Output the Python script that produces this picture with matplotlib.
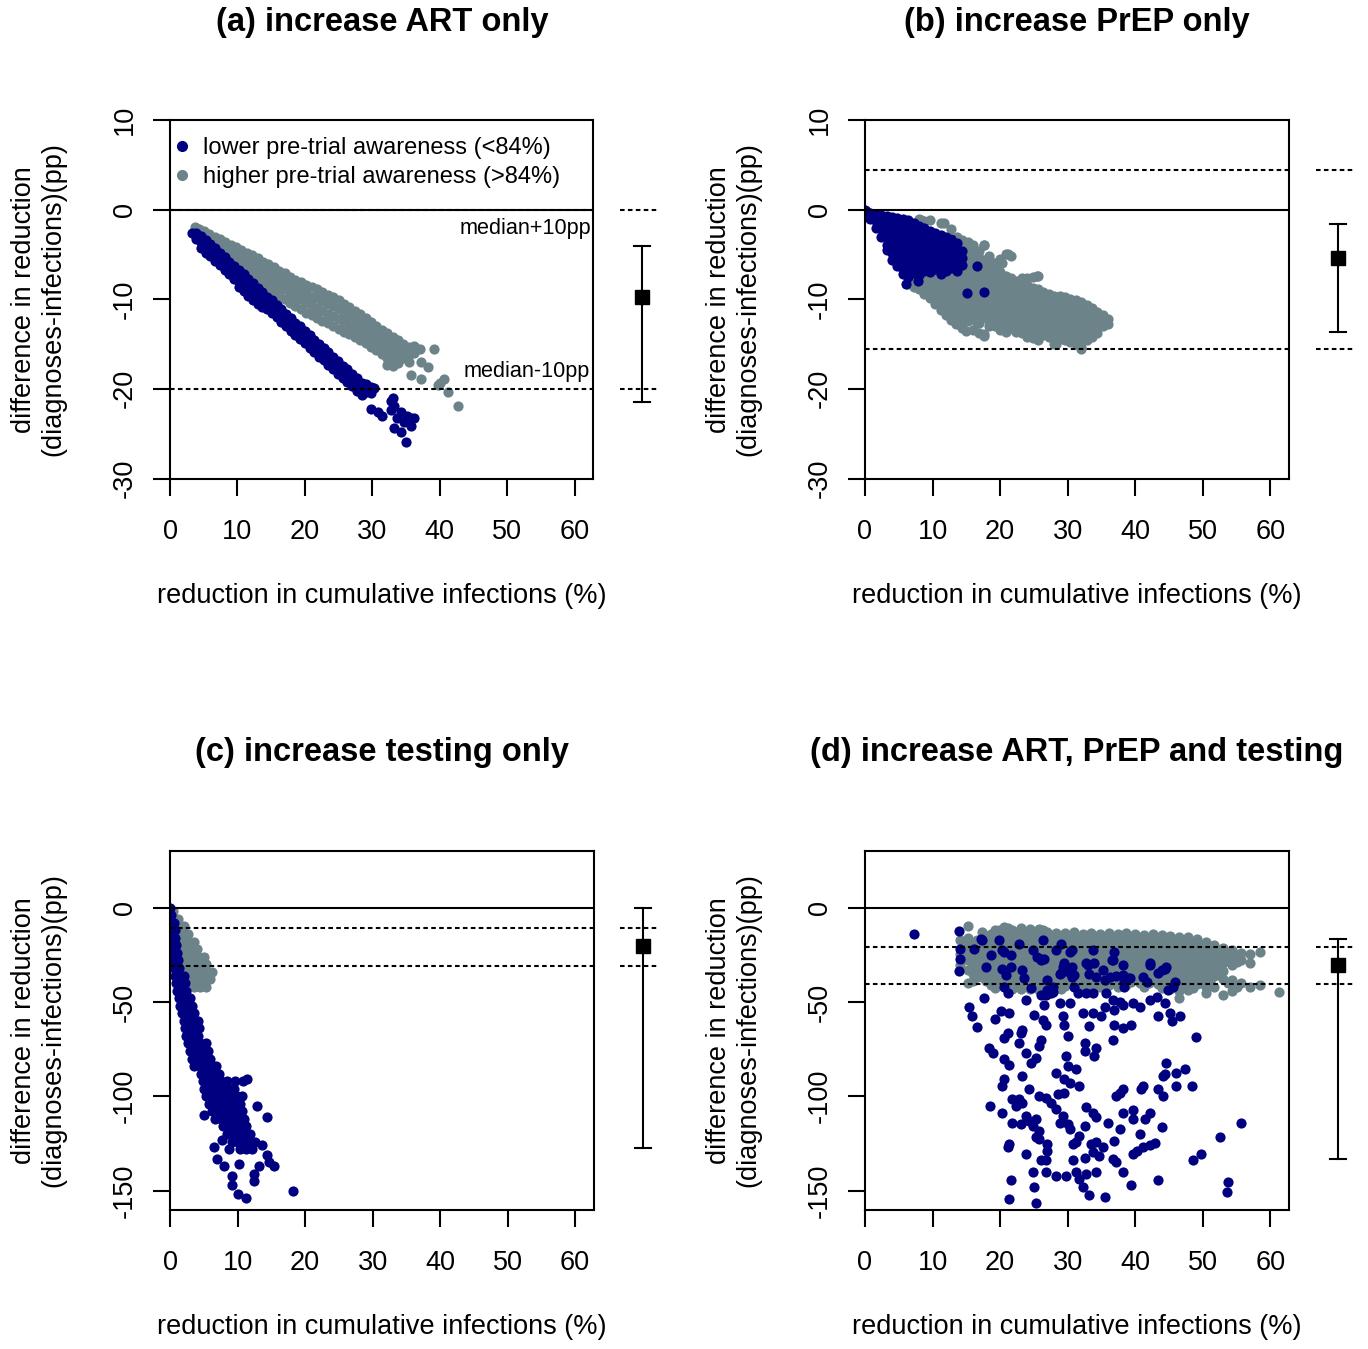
import matplotlib
matplotlib.use("Agg")
import matplotlib.pyplot as plt
from matplotlib.lines import Line2D

plt.rcParams["font.family"] = ["Liberation Sans", "DejaVu Sans"]
plt.rcParams["axes.unicode_minus"] = False

LOW_COL = "#000080"
HIGH_COL = "#6b8389"

titles = ["(a) increase ART only", "(b) increase PrEP only",
          "(c) increase testing only", "(d) increase ART, PrEP and testing"]
legend_labels = ["lower pre-trial awareness (<84%)", "higher pre-trial awareness (>84%)"]
xlabel = "reduction in cumulative infections (%)"
ylabel_lines = ["difference in reduction", "(diagnoses-infections)(pp)"]

xticks = [0, 10, 20, 30, 40, 50, 60]
yticks_top = [10, 0, -10, -20, -30]
yticks_bottom = [0, -50, -100, -150]

# median and range of each scenario (drawn right of the panels)
medians = [-9.8, -5.4, -20.3, -30.2]
bar_lo = [-21.5, -13.6, -127.5, -133.2]
bar_hi = [-4.1, -1.6, 0.0, -16.7]
# median +/- 10pp reference lines
ref_lines = [(0.0, -20.0), (4.4, -15.5), (-11.0, -31.0), (-21.0, -40.7)]

# ---------------- (a) increase ART only ----------------
# columns: (x, [y values])
art_high_cols = [
    (3.7, [-1.9]), (4.3, [-2.2, -2.8]), (5.0, [-2.4, -3.2]), (5.8, [-2.7, -3.5, -4.0]),
    (6.6, [-3.0, -3.8, -4.5]), (7.4, [-3.3, -4.1, -4.9]), (8.2, [-3.6, -4.4, -5.3, -5.8]),
    (9.0, [-3.9, -4.7, -5.6, -6.2]), (9.8, [-4.2, -5.0, -5.9, -6.6]),
    (10.6, [-4.5, -5.4, -6.2, -7.0]), (11.4, [-4.8, -5.7, -6.5, -7.3]),
    (12.2, [-5.1, -6.0, -6.9, -7.7]), (13.0, [-5.4, -6.3, -7.2, -8.1]),
    (13.8, [-5.8, -6.6, -7.5, -8.4]), (14.6, [-6.1, -7.0, -7.9, -8.8]),
    (15.4, [-6.4, -7.3, -8.2, -9.2]), (16.2, [-6.8, -7.7, -8.6, -9.6]),
    (17.0, [-7.1, -8.0, -8.9, -10.0]), (17.8, [-7.5, -8.4, -9.3, -10.4]),
    (18.6, [-7.8, -8.7, -9.7, -10.8]), (19.4, [-8.1, -9.0, -10.0, -11.1]),
    (20.2, [-8.4, -9.4, -10.4, -11.5]), (21.0, [-8.6, -9.7, -10.7, -11.8]),
    (21.8, [-8.9, -9.9, -11.0, -12.1]), (22.6, [-9.2, -10.2, -11.3, -12.4]),
    (23.4, [-9.5, -10.5, -11.6, -12.7]), (24.2, [-9.8, -10.8, -11.9, -13.0]),
    (25.0, [-10.1, -11.1, -12.2, -13.3]), (25.8, [-10.5, -11.5, -12.5, -13.6]),
    (26.6, [-10.9, -11.9, -12.9, -13.9]), (27.4, [-11.3, -12.3, -13.2, -14.2]),
    (28.2, [-11.7, -12.7, -13.6, -14.5]), (29.0, [-12.1, -13.1, -14.0, -14.9]),
    (29.8, [-12.5, -13.5, -14.4, -15.3]), (30.6, [-13.0, -13.9, -14.8, -15.7]),
    (31.4, [-13.4, -14.3, -15.2, -16.1]), (32.2, [-13.8, -14.7, -15.6, -16.6, -17.3]),
    (33.0, [-14.2, -15.1, -16.0, -16.9, -17.5]), (33.8, [-14.6, -15.5, -16.4, -17.1]),
    (34.6, [-15.0, -15.8, -16.6]), (35.4, [-15.3, -16.2, -17.0]), (36.2, [-15.2, -16.0]),
    (37.0, [-15.6]),
]
art_high_extra = [(39.1, -15.6), (37.2, -17.0), (38.2, -17.6), (35.7, -18.5), (37.2, -18.9),
                  (40.6, -18.9), (39.7, -19.6), (41.2, -20.4), (42.7, -21.9), (40.1, -19.3)]
art_low_cols = [
    (3.2, [-2.6]), (3.9, [-2.6, -3.3]), (4.6, [-2.9, -3.6, -4.3]), (5.3, [-3.4, -4.1, -4.8]),
    (6.0, [-3.8, -4.5, -5.2]), (6.7, [-4.3, -5.0, -5.7]), (7.4, [-4.8, -5.5, -6.2]),
    (8.1, [-5.3, -6.0, -6.7]), (8.8, [-5.8, -6.5, -7.2]), (9.5, [-6.3, -7.0, -7.7]),
    (10.2, [-6.7, -7.4, -8.1, -8.6]), (10.9, [-7.2, -7.9, -8.6, -9.1]),
    (11.6, [-7.7, -8.4, -9.1, -9.6]), (12.3, [-8.2, -8.9, -9.6, -10.1]),
    (13.0, [-8.7, -9.4, -10.1, -10.5]), (13.7, [-9.2, -9.9, -10.6, -10.9]),
    (14.4, [-9.7, -10.4, -11.1]), (15.1, [-10.1, -10.8, -11.5]), (15.8, [-10.6, -11.3, -12.0]),
    (16.5, [-11.1, -11.8, -12.5]), (17.2, [-11.6, -12.3, -13.0]), (17.9, [-12.1, -12.8, -13.5]),
    (18.6, [-12.6, -13.3, -14.0]), (19.3, [-13.0, -13.7, -14.4]), (20.0, [-13.5, -14.2, -14.9]),
    (20.7, [-14.0, -14.7, -15.4]), (21.4, [-14.5, -15.2, -15.9]), (22.1, [-15.0, -15.7, -16.4]),
    (22.8, [-15.4, -16.1, -16.8]), (23.5, [-15.9, -16.6, -17.3]), (24.2, [-16.4, -17.1, -17.8]),
    (24.9, [-16.9, -17.6, -18.3]), (25.6, [-17.4, -18.1, -18.8]), (26.3, [-17.8, -18.5, -19.2]),
    (27.0, [-18.3, -19.0, -19.7]), (27.7, [-18.8, -19.5, -20.2]), (28.4, [-19.3, -20.0, -20.7]),
    (29.1, [-19.5, -20.3]), (29.8, [-19.8, -20.5]), (30.2, [-19.9]),
]
art_low_extra = [(32.7, -21.3), (33.2, -21.9), (29.8, -22.2), (30.8, -22.6), (31.5, -23.0),
                 (32.7, -22.4), (34.2, -22.6), (35.2, -23.0), (35.7, -23.3), (33.7, -23.3),
                 (34.7, -23.7), (33.2, -24.4), (34.2, -24.8), (35.7, -24.1), (36.2, -23.3),
                 (35.0, -25.9), (33.0, -21.0)]

# ---------------- (b) increase PrEP only ----------------
prep_high_cols = [
    (6.4, [-7.6, -8.3]), (7.2, [-7.7, -8.6]), (8.0, [-1.1, -8.0, -8.9]),
    (8.8, [-1.3, -7.8, -8.6, -9.4]), (9.6, [-1.2, -7.5, -8.3, -9.1, -9.9]),
    (10.4, [-7.4, -8.2, -9.0, -9.8, -10.5]), (11.2, [-1.5, -7.3, -8.1, -8.9, -9.7, -10.5, -11.2]),
    (12.0, [-7.2, -8.0, -8.8, -9.6, -10.4, -11.2, -11.8]),
    (12.8, [-2.2, -7.0, -7.8, -8.6, -9.4, -10.2, -11.0, -11.8, -12.3]),
    (13.6, [-3.0, -6.9, -7.7, -8.5, -9.3, -10.1, -10.9, -11.7, -12.5]),
    (14.4, [-3.4, -4.2, -7.0, -7.8, -8.6, -9.4, -10.2, -11.0, -11.8, -12.6, -13.2]),
    (15.2, [-3.6, -4.4, -5.2, -6.0, -6.8, -7.6, -8.4, -9.2, -10.0, -10.8, -11.6, -12.4]),
    (16.0, [-4.0, -4.8, -5.6, -6.4, -7.2, -8.0, -8.8, -9.6, -10.4, -11.2, -12.0, -13.4]),
    (16.8, [-4.6, -5.4, -6.2, -7.0, -7.8, -8.6, -9.4, -10.2, -11.0, -11.8, -12.6, -13.8]),
    (17.6, [-4.0, -5.6, -6.4, -7.2, -8.0, -8.8, -9.6, -10.4, -11.2, -12.0, -13.9]),
    (18.4, [-5.2, -6.0, -6.8, -7.6, -8.4, -9.2, -10.0, -10.8, -11.6, -12.4, -13.0]),
    (19.2, [-5.9, -6.6, -7.4, -8.2, -9.0, -9.8, -10.6, -11.4, -12.2, -13.0]),
    (20.0, [-5.5, -7.0, -7.8, -8.6, -9.4, -10.2, -11.0, -11.8, -12.6, -13.4]),
    (20.8, [-4.9, -7.4, -8.2, -9.0, -9.8, -10.6, -11.4, -12.2, -13.0, -13.6]),
    (21.6, [-5.2, -7.6, -8.4, -9.2, -10.0, -10.8, -11.6, -12.4, -13.2]),
    (22.4, [-8.0, -8.8, -9.6, -10.4, -11.2, -12.0, -12.8, -13.6]),
    (23.2, [-7.6, -8.2, -9.0, -9.8, -10.6, -11.4, -12.2, -13.0, -13.8]),
    (24.0, [-7.6, -8.4, -9.2, -10.0, -10.8, -11.6, -12.4, -13.2, -14.2]),
    (24.8, [-7.5, -8.7, -9.5, -10.3, -11.1, -11.9, -12.7, -13.5, -14.3]),
    (25.6, [-7.4, -8.9, -9.7, -10.5, -11.3, -12.1, -12.9, -13.7, -14.5]),
    (26.4, [-9.2, -10.0, -10.8, -11.6, -12.4, -13.2, -14.0]),
    (27.2, [-9.4, -10.2, -11.0, -11.8, -12.6, -13.4, -14.2]),
    (28.0, [-9.6, -10.4, -11.2, -12.0, -12.8, -13.6, -14.4, -15.0]),
    (28.8, [-9.6, -10.4, -11.2, -12.0, -12.8, -13.6, -14.4]),
    (29.6, [-9.8, -10.6, -11.4, -12.2, -13.0, -13.8, -14.6]),
    (30.4, [-10.0, -10.8, -11.6, -12.4, -13.2, -14.0, -14.8]),
    (31.2, [-10.1, -10.9, -11.7, -12.5, -13.3, -14.1, -15.0]),
    (32.0, [-10.3, -11.1, -11.9, -12.7, -13.5, -14.3, -15.3]),
    (32.8, [-10.6, -11.4, -12.2, -13.0, -13.8, -14.6]),
    (33.6, [-11.0, -11.8, -12.6, -13.4, -14.2]),
    (34.4, [-11.4, -12.2, -13.0, -13.8]),
    (35.2, [-11.8, -12.6, -13.0]),
    (36.0, [-12.2, -12.8]),
]
prep_high_extra = [(8.3, -1.2), (11.7, -1.5), (17.6, -4.0), (21.1, -4.9), (19.3, -5.9),
                   (20.3, -5.9), (22.8, -8.0), (23.8, -7.8), (25.5, -7.4), (13.4, -12.8),
                   (14.9, -13.5), (17.6, -14.1), (16.6, -12.6), (28.3, -15.0), (32.0, -15.5)]
prep_low_cols = [
    (0.2, [-0.1]), (0.8, [-0.4, -1.1]), (1.6, [-0.5, -1.3, -2.1]),
    (2.4, [-0.6, -1.4, -2.2, -3.0]), (3.2, [-0.7, -1.5, -2.3, -3.1, -3.9, -4.5]),
    (4.0, [-0.8, -1.6, -2.4, -3.2, -4.0, -4.8, -5.6]),
    (4.8, [-0.9, -1.7, -2.5, -3.3, -4.1, -4.9, -5.7, -6.3]),
    (5.6, [-1.0, -1.8, -2.6, -3.4, -4.2, -5.0, -5.8, -6.6, -7.2]),
    (6.4, [-1.2, -2.0, -2.8, -3.6, -4.4, -5.2, -6.0, -6.8, -7.5]),
    (7.2, [-1.5, -2.3, -3.1, -3.9, -4.7, -5.5, -6.3, -7.1]),
    (8.0, [-1.8, -2.6, -3.4, -4.2, -5.0, -5.8, -6.6, -7.3]),
    (8.8, [-2.1, -2.9, -3.7, -4.5, -5.3, -6.1, -6.9]),
    (9.6, [-2.4, -3.2, -4.0, -4.8, -5.6, -6.4, -7.0]),
    (10.4, [-2.6, -3.4, -4.2, -5.0, -5.8, -6.6]),
    (11.2, [-2.8, -3.6, -4.4, -5.2, -6.0, -6.8]),
    (12.0, [-3.0, -3.8, -4.6, -5.4, -6.2, -6.9]),
    (12.8, [-3.3, -4.1, -4.9, -5.7, -6.5]),
    (13.6, [-3.7, -4.5, -5.3, -6.1, -6.8]),
    (14.3, [-4.6, -5.4, -6.2]),
]
prep_low_extra = [(16.6, -6.3), (15.1, -9.3), (17.6, -9.2), (6.0, -8.3), (7.9, -8.0),
                  (0.0, 0.0), (11.2, -7.2)]

# ---------------- (c) increase testing only ----------------
# rows: (y, [x values])
test_high_rows = [
    (-2, [0.4]), (-6, [0.6, 1.2]), (-10, [0.8, 1.5, 2.1]), (-14, [1.0, 1.8, 2.6]),
    (-18, [1.2, 2.1, 3.0, 3.6]), (-22, [1.4, 2.3, 3.2, 4.0]), (-26, [1.6, 2.5, 3.4, 4.3, 5.0]),
    (-30, [1.8, 2.7, 3.6, 4.5, 5.4]), (-34, [2.0, 2.9, 3.8, 4.7, 5.6, 6.2]),
    (-38, [2.6, 3.5, 4.4, 5.3, 5.9]), (-42, [3.6, 4.5, 5.3]),
]
test_low_rows = [
    (0, [0.0]), (-4, [0.1]), (-8, [0.2, 0.6]), (-12, [0.2, 0.7]), (-16, [0.3, 0.8]),
    (-20, [0.3, 0.9]), (-24, [0.4, 1.0]), (-28, [0.5, 1.2]), (-32, [0.6, 1.3]),
    (-36, [0.7, 1.5, 2.0]), (-40, [0.9, 1.6, 2.2]), (-44, [1.0, 1.8, 2.4]),
    (-48, [1.3, 2.1, 2.9]), (-52, [1.5, 2.3, 3.2]), (-56, [1.8, 2.6, 3.5]),
    (-60, [2.0, 2.8, 3.7, 4.2]), (-64, [2.2, 3.0, 3.9, 4.3]), (-68, [2.4, 3.3, 4.2]),
    (-72, [2.7, 3.6, 4.5, 5.4]), (-76, [2.9, 3.8, 4.7, 5.6]), (-80, [3.2, 4.1, 5.0, 5.9]),
    (-84, [3.5, 4.4, 5.3, 6.2, 6.8]), (-88, [4.6, 5.5, 6.4, 7.3]),
    (-92, [4.9, 5.8, 6.7, 7.6, 8.5, 9.6, 10.8]), (-96, [5.1, 6.0, 6.9, 7.8, 8.7, 9.5]),
    (-100, [5.4, 6.3, 7.2, 8.1, 9.0, 9.9, 10.6]), (-104, [5.8, 6.7, 7.6, 8.5, 9.4, 10.3]),
    (-108, [6.2, 7.1, 8.0, 8.9, 9.8, 10.6]), (-112, [6.6, 7.5, 8.4, 9.3, 10.2, 11.0]),
    (-116, [7.8, 8.7, 9.6, 10.5, 11.3]), (-120, [8.4, 9.3, 10.2, 11.1, 11.9]),
    (-124, [9.2, 10.1, 11.0, 11.8, 12.6]), (-128, [10.4, 11.3, 12.1]),
]
test_low_extra = [(5.0, -110), (12.9, -105), (14.4, -111), (6.5, -127), (7.7, -123),
                  (8.7, -128), (7.0, -133), (8.0, -137), (9.2, -142), (9.2, -147),
                  (10.0, -152), (11.2, -154), (10.2, -136), (12.5, -141), (12.5, -145),
                  (13.2, -137), (14.7, -135), (15.4, -137), (14.4, -131), (13.7, -126),
                  (18.2, -150), (9.7, -99.8), (11.4, -91)]

# ---------------- (d) increase ART, PrEP and testing ----------------
all_high_cols = [
    (14.0, [-17.4, -24.4, -30.5]),
    (15.3, [-9.5, -16.0, -20.0, -24.0, -28.0, -33.0, -40.0]),
    (16.6, [-17.0, -21.0, -25.0, -29.0, -33.0, -37.0]),
    (17.9, [-15.0, -19.0, -23.0, -27.0, -31.0, -35.0, -39.0]),
    (19.2, [-12.1, -16.0, -20.0, -24.0, -28.0, -32.0, -36.0, -40.0, -42.8]),
    (20.5, [-10.4, -14.0, -18.0, -22.0, -26.0, -30.0, -34.0, -38.0, -41.5]),
    (21.8, [-12.0, -16.0, -20.0, -24.0, -28.0, -32.0, -36.0, -40.0, -43.0]),
    (23.1, [-11.0, -15.0, -19.0, -23.0, -27.0, -31.0, -35.0, -39.0, -43.0]),
    (24.4, [-11.2, -15.0, -19.0, -23.0, -27.0, -31.0, -35.0, -39.0, -43.0]),
    (25.7, [-11.2, -15.0, -19.0, -23.0, -27.0, -31.0, -35.0, -39.0, -43.5]),
    (27.0, [-13.0, -17.0, -21.0, -25.0, -29.0, -33.0, -37.0, -41.0]),
    (28.3, [-13.5, -17.5, -21.5, -25.5, -29.5, -33.5, -37.5, -41.5]),
    (29.6, [-13.5, -17.5, -21.5, -25.5, -29.5, -33.5, -37.5, -41.5]),
    (30.9, [-13.0, -17.0, -21.0, -25.0, -29.0, -33.0, -37.0, -41.0]),
    (32.2, [-14.0, -18.0, -22.0, -26.0, -30.0, -34.0, -38.0, -42.0]),
    (33.5, [-13.5, -17.5, -21.5, -25.5, -29.5, -33.5, -37.5, -41.5]),
    (34.8, [-14.0, -18.0, -22.0, -26.0, -30.0, -34.0, -38.0, -42.0]),
    (36.1, [-13.5, -17.5, -21.5, -25.5, -29.5, -33.5, -37.5, -41.0]),
    (37.4, [-14.0, -18.0, -22.0, -26.0, -30.0, -34.0, -38.0, -42.0]),
    (38.7, [-13.5, -17.5, -21.5, -25.5, -29.5, -33.5, -37.5, -41.0]),
    (40.0, [-14.0, -18.0, -22.0, -26.0, -30.0, -34.0, -38.0]),
    (41.3, [-14.5, -18.5, -22.5, -26.5, -30.5, -34.5, -38.5, -42.0]),
    (42.6, [-14.0, -18.0, -22.0, -26.0, -30.0, -34.0, -38.0]),
    (43.9, [-14.5, -18.5, -22.5, -26.5, -30.5, -34.5, -38.5, -42.5]),
    (45.2, [-15.0, -19.0, -23.0, -27.0, -31.0, -35.0, -39.0, -43.0]),
    (46.5, [-15.5, -19.5, -23.5, -27.5, -31.5, -35.5, -39.5, -44.0, -48.0]),
    (47.8, [-15.5, -19.5, -23.5, -27.5, -31.5, -35.5, -39.5, -43.5]),
    (49.1, [-16.5, -20.5, -24.5, -28.5, -32.5, -36.5, -40.5]),
    (50.4, [-18.0, -22.0, -26.0, -30.0, -34.0, -38.0, -42.0, -45.0]),
    (51.7, [-20.0, -24.0, -28.0, -32.0, -36.0, -41.9]),
    (53.0, [-21.5, -25.5, -29.5, -33.5, -38.0, -46.3]),
    (54.3, [-22.5, -26.5, -30.5, -38.4, -44.0]),
    (55.6, [-24.0, -28.0, -40.0]),
    (57.0, [-24.5, -29.3, -41.9]),
    (58.5, [-23.5, -41.0]),
    (61.3, [-44.6]),
]
all_high_cols_mid = [
    (16.0, [-19.0, -23.0, -27.0, -31.0, -35.0, -39.0]),
    (17.3, [-13.0, -17.0, -21.0, -25.0, -29.0, -33.0, -37.0]),
    (18.6, [-14.0, -18.0, -22.0, -26.0, -30.0, -34.0, -38.0, -41.0]),
    (19.9, [-12.0, -16.0, -20.0, -24.0, -28.0, -32.0, -36.0, -40.0]),
    (21.2, [-11.0, -14.0, -18.0, -22.0, -26.0, -30.0, -34.0, -38.0, -42.0]),
    (22.5, [-13.0, -17.0, -21.0, -25.0, -29.0, -33.0, -37.0, -41.0]),
    (23.8, [-13.0, -17.0, -21.0, -25.0, -29.0, -33.0, -37.0, -41.0]),
    (25.1, [-13.0, -17.0, -21.0, -25.0, -29.0, -33.0, -37.0, -41.0]),
    (26.4, [-12.0, -15.0, -19.0, -23.0, -27.0, -31.0, -35.0, -39.0, -43.0]),
    (27.7, [-15.5, -19.5, -23.5, -27.5, -31.5, -35.5, -39.5]),
    (29.0, [-15.5, -19.5, -23.5, -27.5, -31.5, -35.5, -39.5, -43.0]),
    (30.3, [-15.0, -19.0, -23.0, -27.0, -31.0, -35.0, -39.0]),
    (31.6, [-15.5, -19.5, -23.5, -27.5, -31.5, -35.5, -39.5]),
    (32.9, [-15.5, -19.5, -23.5, -27.5, -31.5, -35.5, -39.5, -43.0]),
    (34.2, [-15.5, -19.5, -23.5, -27.5, -31.5, -35.5, -39.5]),
    (35.5, [-15.5, -19.5, -23.5, -27.5, -31.5, -35.5, -39.5]),
    (36.8, [-15.5, -19.5, -23.5, -27.5, -31.5, -35.5, -39.5]),
    (38.1, [-15.5, -19.5, -23.5, -27.5, -31.5, -35.5, -39.5]),
    (39.4, [-15.5, -19.5, -23.5, -27.5, -31.5, -35.5, -39.5]),
    (40.7, [-16.0, -20.0, -24.0, -28.0, -32.0, -36.0, -40.0]),
    (42.0, [-16.0, -20.0, -24.0, -28.0, -32.0, -36.0, -40.0]),
    (43.3, [-16.5, -20.5, -24.5, -28.5, -32.5, -36.5, -40.5]),
    (44.6, [-17.0, -21.0, -25.0, -29.0, -33.0, -37.0, -41.0]),
    (45.9, [-17.5, -21.5, -25.5, -29.5, -33.5, -37.5, -41.5]),
    (47.2, [-17.5, -21.5, -25.5, -29.5, -33.5, -37.5, -41.5]),
    (48.5, [-18.5, -22.5, -26.5, -30.5, -34.5, -38.5, -42.5]),
    (49.8, [-20.0, -24.0, -28.0, -32.0, -36.0, -40.0]),
    (51.1, [-22.0, -26.0, -30.0, -34.0, -39.0]),
    (52.4, [-23.5, -27.5, -31.5, -35.5]),
    (53.7, [-24.5, -28.5, -40.0]),
    (55.0, [-25.0, -29.0, -42.0]),
]
all_low = [
    (7.3, -13.9), (13.9, -12.5), (14.1, -21.8), (14.1, -27.0), (13.9, -33.7), (17.3, -17.0),
    (15.4, -52.5), (15.8, -57.7), (16.6, -63.3), (17.6, -47.7), (18.6, -25.3), (17.9, -31.4),
    (19.8, -17.4), (20.3, -22.6), (20.1, -55.0), (21.3, -56.0), (19.3, -59.0), (20.8, -35.8),
    (21.1, -45.4), (21.6, -31.4), (22.8, -19.1), (23.6, -37.5), (23.8, -49.0), (24.6, -42.8),
    (23.3, -64.7), (23.1, -66.5), (21.1, -66.5), (20.6, -69.0), (18.4, -74.4), (18.9, -77.0),
    (20.6, -80.5), (21.3, -83.2), (22.8, -71.8), (23.8, -77.0), (24.6, -82.3), (25.3, -79.6),
    (26.0, -70.0), (25.8, -73.5), (25.0, -56.8), (26.3, -59.5), (26.8, -62.1), (26.3, -17.4),
    (26.5, -27.0), (27.0, -38.4), (27.3, -45.4), (26.5, -51.6), (27.8, -44.6), (28.3, -22.6),
    (29.0, -19.1), (29.0, -34.9), (29.5, -29.6), (29.3, -57.7), (29.5, -62.1), (30.0, -68.2),
    (28.8, -50.7), (30.3, -50.7), (30.7, -31.4), (31.0, -35.8), (31.0, -42.0), (31.5, -45.4),
    (32.7, -29.6), (33.9, -29.6), (32.7, -45.4), (33.7, -22.6), (33.7, -56.0), (32.3, -56.0),
    (33.2, -63.0), (34.9, -57.7), (35.5, -52.5), (36.9, -62.1), (38.2, -64.0), (36.7, -70.0),
    (34.2, -74.4), (33.9, -78.8), (32.5, -71.8), (32.5, -76.1), (29.8, -78.8), (28.3, -87.5),
    (30.0, -84.0), (29.5, -91.0), (31.3, -85.8), (31.7, -94.6), (30.3, -92.8), (29.5, -98.0),
    (28.5, -99.0), (26.8, -100.7), (25.8, -99.8), (24.3, -96.3), (23.3, -89.3), (20.6, -91.0),
    (20.3, -94.6), (21.8, -101.6), (22.8, -101.6), (22.3, -105.0), (23.3, -103.3), (27.5, -103.3),
    (28.3, -106.8), (18.5, -105.0), (20.3, -108.6), (21.8, -113.9), (23.1, -114.7), (23.8, -110.4),
    (24.3, -113.0), (24.8, -115.6), (25.3, -112.1), (25.8, -118.2), (25.3, -121.8), (25.8, -122.6),
    (27.0, -125.3), (27.0, -128.8), (26.8, -134.0), (26.0, -134.0), (23.8, -130.5), (21.3, -125.3),
    (21.1, -127.0), (21.6, -144.6), (21.3, -154.6), (24.8, -140.2), (25.0, -148.0), (25.3, -156.8),
    (26.8, -140.2), (28.3, -142.3), (29.8, -142.3), (31.3, -140.2), (31.7, -143.7), (32.2, -148.0),
    (32.7, -141.0), (33.2, -152.5), (34.2, -140.2), (30.8, -125.3), (31.3, -124.4), (30.3, -117.4),
    (30.0, -114.7), (29.3, -110.4), (28.8, -113.9), (32.5, -115.6), (32.7, -105.8), (33.7, -108.6),
    (34.2, -111.2), (35.9, -113.9), (31.7, -120.9), (33.5, -125.3), (34.2, -124.4), (34.7, -131.4),
    (35.2, -127.0), (32.5, -132.8), (33.7, -129.6), (30.8, -134.0), (35.5, -153.3), (36.7, -133.2),
    (37.2, -135.0), (36.9, -123.5), (37.7, -117.4), (38.2, -108.6), (38.2, -140.2), (39.4, -147.2),
    (39.7, -130.5), (40.2, -128.8), (41.2, -127.0), (42.2, -125.8), (42.9, -124.7), (40.7, -120.0),
    (39.7, -112.1), (39.7, -107.2), (41.4, -112.1), (42.2, -108.6), (40.9, -96.3), (41.2, -94.6),
    (37.2, -99.8), (37.7, -98.0), (38.2, -96.3), (43.4, -96.3), (44.1, -99.8), (43.4, -144.6),
    (43.9, -116.5), (44.1, -89.3), (44.6, -82.3), (44.4, -88.4), (46.1, -87.5), (47.4, -85.8),
    (46.1, -94.6), (48.4, -94.6), (48.6, -134.0), (49.8, -130.5), (52.6, -121.8), (55.6, -113.9),
    (53.8, -145.4), (53.6, -150.7), (49.0, -68.6), (43.4, -57.7), (45.1, -56.0), (45.4, -60.3),
    (46.6, -57.7), (44.4, -50.7), (42.2, -48.9), (43.2, -47.2), (40.7, -52.5), (39.7, -50.7),
    (39.4, -62.1), (38.2, -51.6), (37.7, -49.8), (36.9, -54.2), (36.7, -49.0), (35.7, -45.4),
    (38.4, -39.3), (39.2, -37.5), (38.2, -35.8), (37.2, -36.3), (36.2, -36.7), (38.2, -30.5),
    (36.9, -23.5), (36.7, -27.9), (35.2, -33.2), (35.5, -38.4), (33.7, -45.4), (34.2, -36.7),
    (38.4, -41.9), (41.2, -36.7), (42.2, -30.5), (41.7, -39.3), (43.4, -34.9), (43.9, -33.2),
    (44.6, -31.4), (44.9, -43.7), (45.9, -39.3), (45.6, -41.9), (30.3, -34.9), (30.7, -36.7),
    (27.8, -42.0), (27.5, -45.4), (27.0, -43.7), (26.0, -46.3), (26.8, -46.3), (25.5, -26.1),
    (26.0, -27.9), (24.8, -22.6), (23.3, -33.2), (21.6, -25.3), (20.3, -32.3), (20.6, -41.9),
    (28.8, -35.0), (29.3, -31.4), (30.7, -22.6), (33.2, -35.0), (17.1, -16.8), (16.1, -21.8),
    (20.6, -23.5), (26.0, -27.0), (30.3, -23.5), (33.0, -30.5), (36.5, -27.9), (42.2, -29.6),
    (44.4, -32.3), (38.9, -37.5),
]


def from_cols(cols, extra=()):
    xs, ys = [], []
    for x, yl in cols:
        for y in yl:
            xs.append(x)
            ys.append(y)
    for x, y in extra:
        xs.append(x)
        ys.append(y)
    return xs, ys


def from_rows(rows, extra=()):
    xs, ys = [], []
    for y, xl in rows:
        for x in xl:
            xs.append(x)
            ys.append(y)
    for x, y in extra:
        xs.append(x)
        ys.append(y)
    return xs, ys


highs = [from_cols(art_high_cols, art_high_extra), from_cols(prep_high_cols, prep_high_extra),
         from_rows(test_high_rows), from_cols(all_high_cols + all_high_cols_mid)]
lows = [from_cols(art_low_cols, art_low_extra), from_cols(prep_low_cols, prep_low_extra),
        from_rows(test_low_rows, test_low_extra), from_cols([], all_low)]
ylims = [(-30, 10), (-30, 10), (-160, 30), (-160, 30)]
yticks = [yticks_top, yticks_top, yticks_bottom, yticks_bottom]

W, H = 1368, 1349
fig = plt.figure(figsize=(W / 100, H / 100), dpi=100)

# plot boxes in pixels (left, top, right, bottom)
boxes = [(170, 120, 593.5, 478.5), (865, 120, 1289.3, 478.5),
         (170, 851, 594, 1209.5), (865, 851, 1289.3, 1209.5)]
title_y = [22, 22, 752, 752]
dots = (0, (2.2, 1.6))

for i in range(4):
    l, t, r, b = boxes[i]
    ax = fig.add_axes([l / W, 1 - b / H, (r - l) / W, (b - t) / H])
    hx, hy = highs[i]
    lx, ly = lows[i]
    ax.scatter(hx, hy, s=54, color=HIGH_COL, linewidths=0, zorder=2)
    ax.scatter(lx, ly, s=54, color=LOW_COL, linewidths=0, zorder=2)
    ax.set_xlim(0, 62.8)
    ax.set_ylim(*ylims[i])
    ax.set_xticks(xticks)
    ax.set_xticklabels([str(v) for v in xticks])
    ax.set_yticks(yticks[i])
    ax.set_yticklabels([str(v) for v in yticks[i]], rotation=90, va="center")

    ax.axhline(0, color="black", lw=1.5, zorder=3)
    for v in ref_lines[i]:
        ax.axhline(v, color="black", lw=1.5, ls=dots, zorder=3)
        ax.plot([66.7, 72.5], [v, v], color="black", lw=1.5, ls=dots, clip_on=False)

    # median and range
    ax.plot([70, 70], [bar_lo[i], bar_hi[i]], color="black", lw=1.5, clip_on=False)
    for v in (bar_lo[i], bar_hi[i]):
        ax.plot([68.8, 71.2], [v, v], color="black", lw=1.5, clip_on=False)
    ax.plot([70], [medians[i]], marker="s", ms=9.5, color="black", clip_on=False)

    for sp in ax.spines.values():
        sp.set_linewidth(1.5)
    ax.tick_params(length=12, width=1.5, labelsize=19.5, direction="out")
    ax.tick_params(axis="x", pad=17)
    ax.tick_params(axis="y", pad=11)

    cx = (l + r) / 2
    fig.text(cx / W, 1 - title_y[i] / H, titles[i], ha="center", va="center",
             fontsize=23.5, fontweight="bold")
    fig.text(cx / W, 1 - (b + 118) / H, xlabel, ha="center", va="center", fontsize=19.5)
    cy = (t + b) / 2
    fig.text((l - 146) / W, 1 - cy / H, ylabel_lines[0], rotation=90,
             ha="center", va="center", fontsize=19.5)
    fig.text((l - 117) / W, 1 - cy / H, ylabel_lines[1], rotation=90,
             ha="center", va="center", fontsize=19.5)

    if i == 0:
        handles = [Line2D([], [], marker="o", ls="", color=LOW_COL, ms=7),
                   Line2D([], [], marker="o", ls="", color=HIGH_COL, ms=7)]
        ax.legend(handles, legend_labels, loc="upper left", bbox_to_anchor=(0, 0.965),
                  frameon=False, fontsize=17, handlelength=0.6, handletextpad=0.6,
                  borderpad=0.2, borderaxespad=0, labelspacing=0.3)
        ax.text(62.4, -2.1, "median+10pp", ha="right", va="center", fontsize=15.6)
        ax.text(62.2, -18.1, "median-10pp", ha="right", va="center", fontsize=15.6)

fig.savefig("out.png", dpi=100)
